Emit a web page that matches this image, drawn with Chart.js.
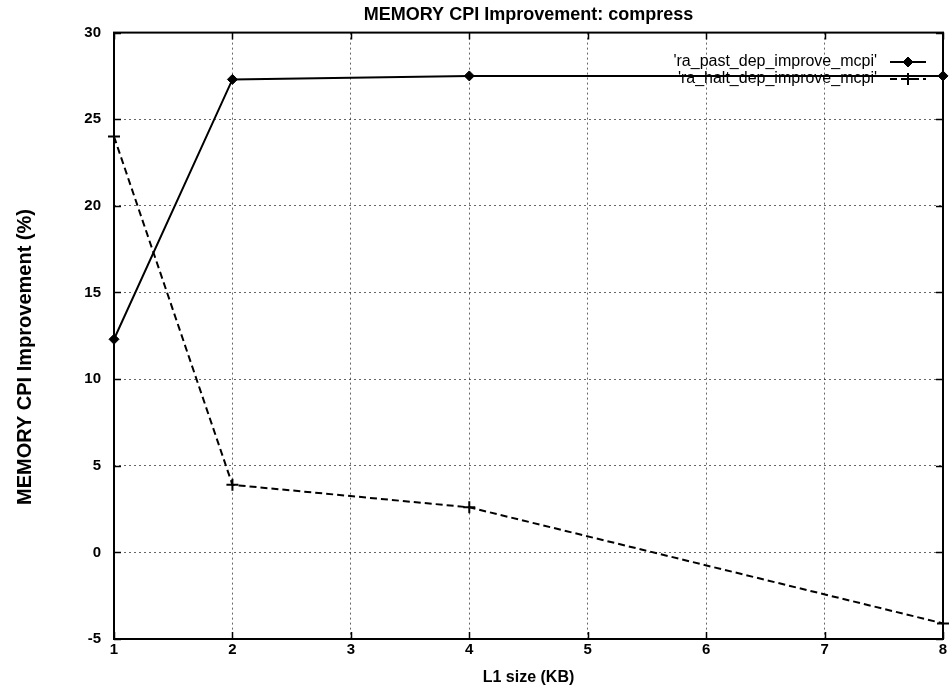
<!DOCTYPE html>
<html>
<head>
<meta charset="utf-8">
<script src="https://cdn.jsdelivr.net/npm/chart.js@4.4.1/dist/chart.umd.min.js"></script>
<style>
    html, body { margin: 0; padding: 0; background: #fff; }
    #mcpiChart { display: block; }
</style>
</head>
<body>
<canvas id="mcpiChart" width="951" height="687"></canvas>
<script>
const l1Sizes = [1, 2, 4, 8];
const pastDepImprove = [12.3, 27.3, 27.5, 27.5];
const haltDepImprove = [24.0, 3.9, 2.6, -4.1];
const seriesLabels = ["'ra_past_dep_improve_mcpi'", "'ra_halt_dep_improve_mcpi'"];
const yAxisLabel = 'MEMORY CPI Improvement (%)';

const FONT = "'Liberation Sans', Arial, Helvetica, sans-serif";

function toPoints(xs, ys) {
    return xs.map((x, i) => ({ x: x, y: ys[i] }));
}

// closed frame around the plot with small inward tick marks on every side
const framePlugin = {
    id: 'frame',
    beforeDatasetsDraw(chart) {
        const { ctx, chartArea: a, scales } = chart;
        ctx.save();
        ctx.strokeStyle = '#000';
        ctx.lineWidth = 2;
        ctx.strokeRect(a.left, a.top, a.right - a.left, a.bottom - a.top);
        ctx.lineWidth = 1.5;
        ctx.beginPath();
        scales.x.ticks.forEach(t => {
            const px = Math.round(scales.x.getPixelForValue(t.value)) + 0.5;
            ctx.moveTo(px, a.bottom); ctx.lineTo(px, a.bottom - 7);
            ctx.moveTo(px, a.top); ctx.lineTo(px, a.top + 7);
        });
        scales.y.ticks.forEach(t => {
            const py = Math.round(scales.y.getPixelForValue(t.value)) + 0.5;
            ctx.moveTo(a.left, py); ctx.lineTo(a.left + 7, py);
            ctx.moveTo(a.right, py); ctx.lineTo(a.right - 7, py);
        });
        ctx.stroke();
        ctx.restore();
    }
};

// rotated y label, sitting a little below the middle of the plot like the original plot
const yLabelPlugin = {
    id: 'yLabel',
    afterDraw(chart) {
        const { ctx } = chart;
        ctx.save();
        ctx.translate(25, 357);
        ctx.rotate(-Math.PI / 2);
        ctx.font = `bold 20px ${FONT}`;
        ctx.fillStyle = '#000';
        ctx.textAlign = 'center';
        ctx.textBaseline = 'middle';
        ctx.fillText(yAxisLabel, 0, 0);
        ctx.restore();
    }
};

// gnuplot-style key: label on the left, line sample with marker on the right
const keyPlugin = {
    id: 'key',
    afterDraw(chart) {
        const { ctx } = chart;
        const textRight = 877;
        const lineStart = 890;
        const lineEnd = 926;
        const rows = [62, 79];
        ctx.save();
        chart.data.datasets.forEach((ds, i) => {
            const y = rows[i];
            ctx.font = `16px ${FONT}`;
            ctx.fillStyle = '#000';
            ctx.textAlign = 'right';
            ctx.textBaseline = 'middle';
            ctx.fillText(ds.label, textRight, y);

            ctx.strokeStyle = '#000';
            ctx.lineWidth = ds.borderWidth;
            ctx.setLineDash(ds.borderDash || []);
            ctx.beginPath();
            ctx.moveTo(lineStart, y);
            ctx.lineTo(lineEnd, y);
            ctx.stroke();
            ctx.setLineDash([]);

            ctx.fillStyle = '#000';
            ctx.lineWidth = ds.pointBorderWidth;
            Chart.helpers.drawPoint(ctx, {
                pointStyle: ds.pointStyle,
                radius: ds.pointRadius,
                rotation: 0,
                borderWidth: ds.pointBorderWidth
            }, (lineStart + lineEnd) / 2, y);
        });
        ctx.restore();
    }
};

const ctx = document.getElementById('mcpiChart').getContext('2d');
new Chart(ctx, {
    type: 'line',
    data: {
        datasets: [
            {
                label: seriesLabels[0],
                data: toPoints(l1Sizes, pastDepImprove),
                borderColor: '#000',
                backgroundColor: '#000',
                borderWidth: 2,
                pointStyle: 'rectRot',
                pointRadius: 5,
                pointBorderWidth: 1,
                tension: 0,
                clip: 10
            },
            {
                label: seriesLabels[1],
                data: toPoints(l1Sizes, haltDepImprove),
                borderColor: '#000',
                backgroundColor: '#000',
                borderWidth: 2,
                borderDash: [7, 4],
                pointStyle: 'cross',
                pointRadius: 6,
                pointBorderWidth: 2,
                tension: 0,
                clip: 10
            }
        ]
    },
    options: {
        responsive: false,
        animation: false,
        layout: { padding: { top: 0, right: 0, bottom: 0, left: 0 } },
        plugins: {
            legend: { display: false },
            tooltip: { enabled: false },
            title: {
                display: true,
                fullSize: false,
                text: 'MEMORY CPI Improvement: compress',
                color: '#000',
                font: { family: FONT, size: 18, weight: 'bold' },
                padding: { top: 4, bottom: 7 }
            }
        },
        scales: {
            x: {
                type: 'linear',
                min: 1,
                max: 8,
                ticks: {
                    stepSize: 1,
                    color: '#000',
                    padding: 2,
                    font: { family: FONT, size: 15, weight: 'bold' }
                },
                grid: { color: 'rgba(0,0,0,0.6)', lineWidth: 1, drawTicks: false },
                border: { display: false, dash: [2, 3] },
                title: {
                    display: true,
                    text: 'L1 size (KB)',
                    color: '#000',
                    font: { family: FONT, size: 16, weight: 'bold' },
                    padding: { top: 0, bottom: 0 }
                },
                afterFit(scale) {
                    scale.height = 48;
                    scale.paddingRight = 3;
                }
            },
            y: {
                type: 'linear',
                min: -5,
                max: 30,
                ticks: {
                    stepSize: 5,
                    color: '#000',
                    padding: 13,
                    font: { family: FONT, size: 15, weight: 'bold' }
                },
                grid: { color: 'rgba(0,0,0,0.6)', lineWidth: 1, drawTicks: false },
                border: { display: false, dash: [2, 3] },
                title: { display: false },
                afterFit(scale) { scale.width = 114; }
            }
        }
    },
    plugins: [framePlugin, yLabelPlugin, keyPlugin]
});
</script>
</body>
</html>
